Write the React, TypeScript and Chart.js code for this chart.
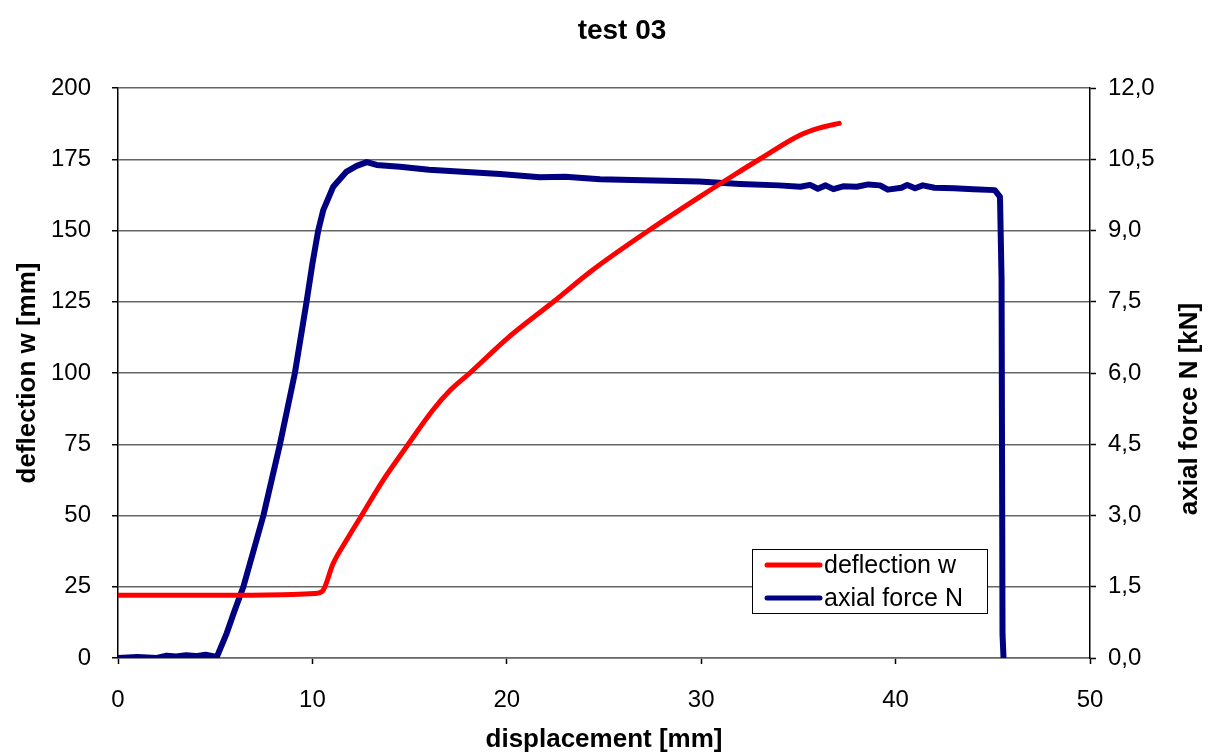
import React, { useEffect, useRef } from 'react';
import { Chart, registerables } from 'chart.js';

Chart.register(...registerables);

const TITLE = 'test 03';
const X_TITLE = 'displacement [mm]';
const Y_LEFT_TITLE = 'deflection w [mm]';
const Y_RIGHT_TITLE = 'axial force N [kN]';
const SERIES_NAMES = ['deflection w', 'axial force N'];
const SERIES_COLORS = ['#ff0000', '#000080'];

// deflection w [mm] vs displacement [mm] (left axis)
const deflectionX = [0, 3, 6, 9, 10.1, 10.5, 11.07, 11.76, 12.53, 13.65, 14.93, 16.2, 17.1, 18.1, 20, 22.4, 24.45, 27.3, 29.94, 31.65, 33, 35.1, 36.1, 37.1];
const deflectionW = [22, 22, 22, 22.3, 22.6, 23.3, 33.2, 41.4, 50, 62.5, 75, 87, 94, 100, 112, 125, 136.3, 150, 161.9, 169.3, 175, 183.5, 186, 187.6];

// axial force N [kN] vs displacement [mm] (right axis)
const forceX = [0, 1, 2, 2.5, 3, 3.5, 4, 4.5, 5.08, 5.59, 6.0, 6.45, 7.0, 7.48, 8.33, 9.1, 9.7, 10.0, 10.3, 10.56, 11.07, 11.76, 12.28, 12.8, 13.3, 14.5, 16, 17.5, 19.65, 21.7, 23, 24.8, 27, 29.9, 32, 34, 35.1, 35.6, 36, 36.4, 36.8, 37.3, 38, 38.6, 39.2, 39.6, 40.3, 40.6, 41, 41.4, 42, 43, 44, 45.1, 45.37, 45.45, 45.5, 45.55];
const forceN = [0, 0.02, 0, 0.05, 0.03, 0.06, 0.04, 0.07, 0.02, 0.52, 1.0, 1.5, 2.3, 3.0, 4.5, 6.0, 7.5, 8.3, 9.0, 9.43, 9.92, 10.24, 10.36, 10.44, 10.38, 10.34, 10.28, 10.24, 10.19, 10.12, 10.13, 10.08, 10.06, 10.03, 9.98, 9.95, 9.92, 9.96, 9.88, 9.95, 9.87, 9.93, 9.92, 9.97, 9.95, 9.86, 9.9, 9.96, 9.89, 9.95, 9.9, 9.89, 9.87, 9.85, 9.71, 8.0, 0.5, 0.02];

const X_TICK_STEP = 10;
const LEFT_TICK_STEP = 25;
const RIGHT_TICK_LABELS = ['0,0', '1,5', '3,0', '4,5', '6,0', '7,5', '9,0', '10,5', '12,0'];

const FONT = '"Liberation Sans", Arial, sans-serif';

const overlayPlugin = {
  id: 'overlay',
  afterDraw(chart: any) {
    const ctx = chart.ctx as CanvasRenderingContext2D;
    const area = chart.chartArea;
    ctx.save();
    // chart title
    ctx.fillStyle = '#000';
    ctx.textAlign = 'center';
    ctx.textBaseline = 'middle';
    ctx.font = `bold 28px ${FONT}`;
    ctx.fillText(TITLE, 622, 31);

    // right axis title (reads bottom to top)
    ctx.save();
    ctx.translate(1190, (area.top + area.bottom) / 2 + 36);
    ctx.rotate(-Math.PI / 2);
    ctx.font = `bold 26px ${FONT}`;
    ctx.fillText(Y_RIGHT_TITLE, 0, 0);
    ctx.restore();

    // legend box
    const bx = 752.5, by = 549.5, bw = 235, bh = 64;
    ctx.fillStyle = '#fff';
    ctx.fillRect(bx, by, bw, bh);
    ctx.strokeStyle = '#000';
    ctx.lineWidth = 1;
    ctx.strokeRect(bx, by, bw, bh);
    const rows = [565, 598];
    chart.data.datasets.forEach((ds: any, i: number) => {
      const y = rows[i];
      ctx.strokeStyle = ds.borderColor;
      ctx.lineWidth = 5;
      ctx.lineCap = 'round';
      ctx.beginPath();
      ctx.moveTo(767, y);
      ctx.lineTo(820, y);
      ctx.stroke();
      ctx.fillStyle = '#000';
      ctx.textAlign = 'left';
      ctx.textBaseline = 'middle';
      ctx.font = `25px ${FONT}`;
      ctx.fillText(ds.label, 824, y + 1);
    });
    ctx.restore();
  },
};

export default function App() {
  const ref = useRef<HTMLCanvasElement | null>(null);

  useEffect(() => {
    document.body.style.margin = '0';
    const canvas = ref.current;
    if (!canvas) return;
    const chart = new Chart(canvas, {
      type: 'line',
      data: {
        datasets: [
          {
            label: SERIES_NAMES[0],
            data: deflectionX.map((x, i) => ({ x, y: deflectionW[i] })),
            borderColor: SERIES_COLORS[0],
            backgroundColor: SERIES_COLORS[0],
            borderWidth: 5,
            pointRadius: 0,
            cubicInterpolationMode: 'monotone',
            borderCapStyle: 'round',
            yAxisID: 'y',
          },
          {
            label: SERIES_NAMES[1],
            data: forceX.map((x, i) => ({ x, y: forceN[i] })),
            borderColor: SERIES_COLORS[1],
            backgroundColor: SERIES_COLORS[1],
            borderWidth: 6,
            pointRadius: 0,
            tension: 0,
            borderJoinStyle: 'round',
            borderCapStyle: 'round',
            yAxisID: 'y1',
          },
        ],
      },
      options: {
        responsive: false,
        animation: false,
        layout: { padding: { top: 88, left: 0, right: 0, bottom: 0 } },
        plugins: {
          legend: { display: false },
          title: { display: false },
          tooltip: { enabled: false },
        },
        scales: {
          x: {
            type: 'linear',
            min: 0,
            max: 50,
            afterFit: (s: any) => { s.height = 97; },
            ticks: {
              stepSize: X_TICK_STEP,
              autoSkip: false,
              maxRotation: 0,
              padding: 22,
              color: '#000',
              font: { family: FONT, size: 24 },
            },
            grid: {
              drawOnChartArea: false,
              drawTicks: true,
              tickLength: 6,
              tickColor: '#000',
              tickWidth: 1.5,
            },
            border: { color: '#666', width: 1.5 },
            title: {
              display: true,
              text: X_TITLE,
              color: '#000',
              font: { family: FONT, size: 26, weight: 'bold' },
              padding: { top: 0, bottom: 0 },
            },
          },
          y: {
            type: 'linear',
            position: 'left',
            min: 0,
            max: 200,
            afterFit: (s: any) => { s.width = 118; },
            ticks: {
              stepSize: LEFT_TICK_STEP,
              autoSkip: false,
              padding: 21,
              color: '#000',
              font: { family: FONT, size: 24 },
            },
            grid: {
              color: '#666',
              lineWidth: 1.5,
              tickLength: 6,
              tickColor: '#000',
              tickWidth: 1.5,
            },
            border: { color: '#000', width: 1.5 },
            title: {
              display: true,
              text: Y_LEFT_TITLE,
              color: '#000',
              font: { family: FONT, size: 26, weight: 'bold' },
              padding: { top: 12, bottom: 0 },
            },
          },
          y1: {
            type: 'linear',
            position: 'right',
            min: 0,
            max: 12,
            afterFit: (s: any) => { s.width = 121; },
            ticks: {
              stepSize: 1.5,
              autoSkip: false,
              padding: 12,
              color: '#000',
              font: { family: FONT, size: 24 },
              callback: (_v: any, i: number) => RIGHT_TICK_LABELS[i],
            },
            grid: {
              drawOnChartArea: false,
              tickLength: 6,
              tickColor: '#000',
              tickWidth: 1.5,
            },
            border: { color: '#000', width: 1.5 },
          },
        },
      },
      plugins: [overlayPlugin],
    });
    return () => chart.destroy();
  }, []);

  return (
    <div style={{ width: 1211, height: 755, background: '#fff' }}>
      <canvas ref={ref} width={1211} height={755} style={{ display: 'block' }} />
    </div>
  );
}
